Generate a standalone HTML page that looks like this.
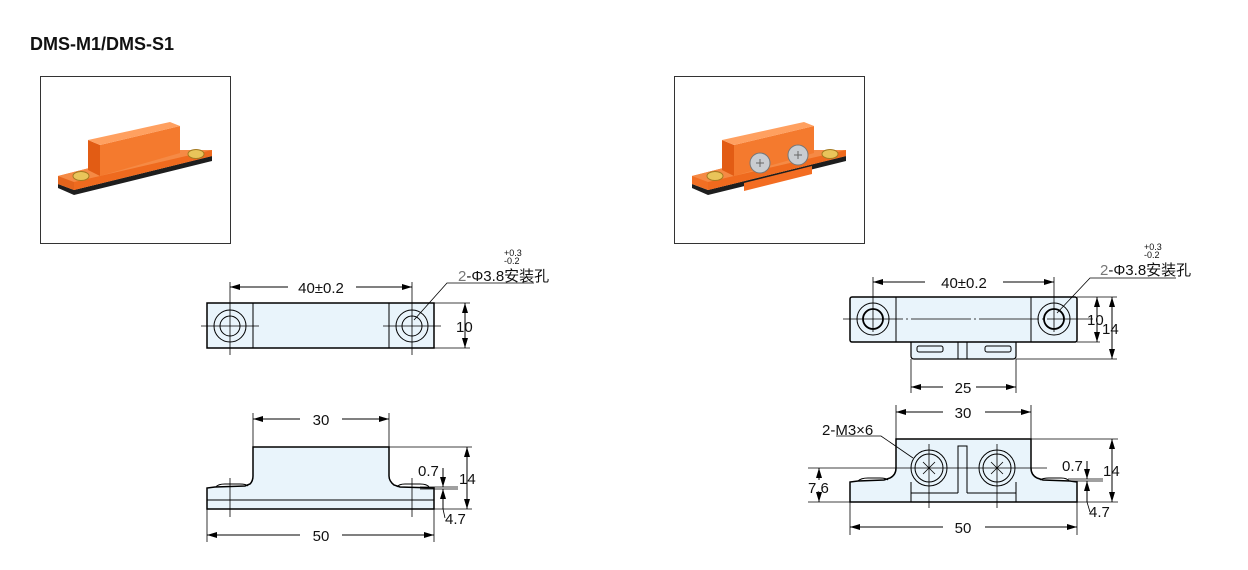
<!DOCTYPE html>
<html><head><meta charset="utf-8"><style>
html,body{margin:0;padding:0;background:#fff;}
svg{display:block;font-family:"Liberation Sans","Noto Sans CJK SC",sans-serif;}
</style></head><body>
<svg width="1248" height="570" viewBox="0 0 1248 570" xmlns="http://www.w3.org/2000/svg">
<defs>
<marker id="a" viewBox="0 0 10 6" refX="10" refY="3" markerWidth="10" markerHeight="6" orient="auto-start-reverse" markerUnits="userSpaceOnUse"><path d="M0,0 L10,3 L0,6z" fill="#000"/></marker>
</defs>
<text x="30" y="50" font-size="18" font-weight="bold" fill="#111">DMS-M1/DMS-S1</text>

<!-- photo boxes -->
<rect x="40.5" y="76.5" width="190" height="167" fill="#fff" stroke="#333"/>
<rect x="674.5" y="76.5" width="190" height="167" fill="#fff" stroke="#333"/>
<!-- photo 1 -->
<polygon points="58,188 74,195 212,161 212,156 74,190 58,184" fill="#1e1e1e"/>
<polygon points="58,176 160,150 212,150 212,156 74,190 58,184" fill="#f26f23"/>
<polygon points="58,176 74,182 74,190 58,184" fill="#e4641c"/>
<polygon points="74,182 212,150 212,156 74,190" fill="#ef6a1e"/>
<polygon points="58,176 160,150 212,150 74,182" fill="#f58a45"/>
<polygon points="88,140 100,145 100,176 88,170" fill="#e25c14"/>
<polygon points="100,145 180,126 180,153 100,176" fill="#f47a2e"/>
<polygon points="88,140 170,122 180,126 100,145" fill="#ffa060"/>
<ellipse cx="81" cy="176" rx="8" ry="4.5" fill="#e9c45a" stroke="#a57a20"/>
<ellipse cx="196" cy="154" rx="8" ry="4.5" fill="#e9c45a" stroke="#a57a20"/>
<!-- photo 2 -->
<polygon points="692,188 708,195 846,161 846,156 708,190 692,184" fill="#1e1e1e"/>
<polygon points="692,176 794,150 846,150 846,156 708,190 692,184" fill="#f26f23"/>
<polygon points="708,182 846,150 846,156 708,190" fill="#ef6a1e"/>
<polygon points="692,176 794,150 846,150 708,182" fill="#f58a45"/>
<polygon points="722,140 734,145 734,176 722,170" fill="#e25c14"/>
<polygon points="734,145 814,126 814,153 734,176" fill="#f47a2e"/>
<polygon points="722,140 804,122 814,126 734,145" fill="#ffa060"/>
<polygon points="744,183 744,191 812,174 812,166" fill="#f36d22"/>
<circle cx="760" cy="163" r="10" fill="#c9ccd0" stroke="#777"/>
<circle cx="798" cy="155" r="10" fill="#c9ccd0" stroke="#777"/>
<path d="M756,163 L764,163 M760,159 L760,167 M794,155 L802,155 M798,151 L798,159" stroke="#666"/>
<ellipse cx="715" cy="176" rx="8" ry="4.5" fill="#e9c45a" stroke="#a57a20"/>
<ellipse cx="830" cy="154" rx="8" ry="4.5" fill="#e9c45a" stroke="#a57a20"/>

<g stroke="#000" fill="none" stroke-width="1">
<!-- LEFT TOP VIEW -->
<rect x="207" y="303" width="227" height="45" fill="#e9f4fb" stroke-width="1.5"/>
<line x1="253" y1="303" x2="253" y2="348"/><line x1="389" y1="303" x2="389" y2="348"/>
<circle cx="230" cy="326" r="16"/><circle cx="230" cy="326" r="10"/>
<circle cx="412" cy="326" r="16"/><circle cx="412" cy="326" r="10"/>
<line x1="201" y1="326" x2="259" y2="326" stroke-width=".8"/>
<line x1="383" y1="326" x2="441" y2="326" stroke-width=".8"/>
<line x1="230" y1="282" x2="230" y2="355" stroke-width=".8"/>
<line x1="412" y1="282" x2="412" y2="355" stroke-width=".8"/>
<line x1="230" y1="287" x2="288" y2="287" marker-start="url(#a)"/>
<line x1="356" y1="287" x2="412" y2="287" marker-end="url(#a)"/>
<line x1="434" y1="303" x2="470" y2="303" stroke-width=".8"/><line x1="434" y1="348" x2="470" y2="348" stroke-width=".8"/>
<line x1="465" y1="303" x2="465" y2="348" marker-start="url(#a)" marker-end="url(#a)"/>
<polyline points="414,320 447,283 534,283" stroke-width=".8"/>

<!-- LEFT SIDE VIEW -->
<path d="M207,509 L207,488 L215,487 L245,486 L250,484 Q253,481 253,476 L253,447 L389,447 L389,476 Q389,481 394,485 L400,487 L434,488 L434,509 Z" fill="#e9f4fb" stroke-width="1.5"/>
<line x1="207" y1="500" x2="434" y2="500"/>
<path d="M216,487 Q218,484 225,484 L240,484 Q246,484 248,486" />
<path d="M397,487 Q399,484 405,484 L420,484 Q427,484 429,487" />
<line x1="230" y1="478" x2="230" y2="517" stroke-width=".8"/>
<line x1="412" y1="478" x2="412" y2="517" stroke-width=".8"/>
<line x1="253" y1="413" x2="253" y2="447" stroke-width=".8"/><line x1="389" y1="413" x2="389" y2="447" stroke-width=".8"/>
<line x1="253" y1="419" x2="300" y2="419" marker-start="url(#a)"/>
<line x1="342" y1="419" x2="389" y2="419" marker-end="url(#a)"/>
<line x1="389" y1="447" x2="472" y2="447" stroke-width=".8"/>
<line x1="434" y1="509" x2="472" y2="509" stroke-width=".8"/>
<line x1="420" y1="487" x2="458" y2="487" stroke-width=".8"/>
<line x1="420" y1="489" x2="458" y2="489" stroke-width=".8"/>
<line x1="467" y1="447" x2="467" y2="509" marker-start="url(#a)" marker-end="url(#a)"/>
<line x1="443" y1="468" x2="443" y2="487" marker-end="url(#a)"/>
<line x1="443" y1="509" x2="443" y2="489" marker-end="url(#a)"/>
<line x1="443" y1="509" x2="445" y2="518" stroke-width=".8"/>
<line x1="207" y1="509" x2="207" y2="542" stroke-width=".8"/><line x1="434" y1="509" x2="434" y2="542" stroke-width=".8"/>
<line x1="207" y1="535" x2="300" y2="535" marker-start="url(#a)"/>
<line x1="342" y1="535" x2="434" y2="535" marker-end="url(#a)"/>

<!-- RIGHT TOP VIEW -->
<path d="M911,342 L911,356 Q911,359 914,359 L1013,359 Q1016,359 1016,356 L1016,342" fill="#e9f4fb" stroke-width="1.2"/>
<rect x="917" y="346" width="26" height="6" rx="2"/>
<rect x="985" y="346" width="26" height="6" rx="2"/>
<line x1="958" y1="342" x2="958" y2="359"/><line x1="967" y1="342" x2="967" y2="359"/>
<rect x="850" y="297" width="227" height="45" rx="2" fill="#e9f4fb" stroke-width="1.5"/>
<line x1="896" y1="297" x2="896" y2="342"/><line x1="1031" y1="297" x2="1031" y2="342"/>
<circle cx="873" cy="319" r="16"/><circle cx="873" cy="319" r="10" stroke-width="1.8"/>
<circle cx="1054" cy="319" r="16"/><circle cx="1054" cy="319" r="10" stroke-width="1.8"/>
<line x1="843" y1="319" x2="1093" y2="319" stroke-width=".8" stroke-dasharray="60,3,2,3"/>
<line x1="873" y1="277" x2="873" y2="332" stroke-width=".8"/>
<line x1="1054" y1="277" x2="1054" y2="332" stroke-width=".8"/>
<line x1="873" y1="282" x2="925" y2="282" marker-start="url(#a)"/>
<line x1="1003" y1="282" x2="1054" y2="282" marker-end="url(#a)"/>
<line x1="1077" y1="297" x2="1117" y2="297" stroke-width=".8"/>
<line x1="1077" y1="342" x2="1100" y2="342" stroke-width=".8"/>
<line x1="1016" y1="359" x2="1117" y2="359" stroke-width=".8"/>
<line x1="1097" y1="297" x2="1097" y2="342" marker-start="url(#a)" marker-end="url(#a)"/>
<line x1="1112" y1="297" x2="1112" y2="359" marker-start="url(#a)" marker-end="url(#a)"/>
<line x1="911" y1="359" x2="911" y2="393" stroke-width=".8"/><line x1="1016" y1="359" x2="1016" y2="393" stroke-width=".8"/>
<line x1="911" y1="387" x2="943" y2="387" marker-start="url(#a)"/>
<line x1="976" y1="387" x2="1016" y2="387" marker-end="url(#a)"/>
<polyline points="1057,313 1090,278 1176,278" stroke-width=".8"/>

<!-- RIGHT SIDE VIEW -->
<path d="M850,502 L850,482 L858,481 L884,480 L890,478 Q896,475 896,468 L896,439 L1031,439 L1031,468 Q1031,475 1037,478 L1043,480 L1070,481 L1077,482 L1077,502 Z" fill="#e9f4fb" stroke-width="1.5"/>
<path d="M858,481 Q861,478 868,478 L880,478 Q886,478 888,480"/>
<path d="M1040,480 Q1043,478 1049,478 L1061,478 Q1067,478 1069,481"/>
<line x1="911" y1="482" x2="911" y2="502"/><line x1="1016" y1="482" x2="1016" y2="502"/>
<line x1="911" y1="493" x2="958" y2="493"/><line x1="967" y1="493" x2="1016" y2="493"/>
<path d="M958,493 L958,446 L967,446 L967,493"/>
<circle cx="929" cy="468" r="18" fill="#e9f4fb"/><circle cx="929" cy="468" r="14"/>
<circle cx="997" cy="468" r="18" fill="#e9f4fb"/><circle cx="997" cy="468" r="14"/>
<path d="M923,462 L935,474 M935,462 L923,474 M991,462 L1003,474 M1003,462 L991,474" stroke-width=".8"/>
<line x1="808" y1="468" x2="1047" y2="468" stroke-width=".8"/>
<line x1="929" y1="444" x2="929" y2="508" stroke-width=".8"/>
<line x1="997" y1="444" x2="997" y2="508" stroke-width=".8"/>
<line x1="808" y1="502" x2="850" y2="502" stroke-width=".8"/>
<line x1="819" y1="480" x2="819" y2="468" marker-end="url(#a)"/>
<line x1="819" y1="492" x2="819" y2="502" marker-end="url(#a)"/>
<line x1="896" y1="405" x2="896" y2="439" stroke-width=".8"/><line x1="1031" y1="405" x2="1031" y2="439" stroke-width=".8"/>
<line x1="896" y1="412" x2="943" y2="412" marker-start="url(#a)"/>
<line x1="985" y1="412" x2="1031" y2="412" marker-end="url(#a)"/>
<line x1="1031" y1="439" x2="1118" y2="439" stroke-width=".8"/>
<line x1="1077" y1="502" x2="1118" y2="502" stroke-width=".8"/>
<line x1="1068" y1="479" x2="1103" y2="479" stroke-width=".8"/>
<line x1="1068" y1="481" x2="1103" y2="481" stroke-width=".8"/>
<line x1="1112" y1="439" x2="1112" y2="502" marker-start="url(#a)" marker-end="url(#a)"/>
<line x1="1087" y1="461" x2="1087" y2="479" marker-end="url(#a)"/>
<line x1="1087" y1="502" x2="1087" y2="481" marker-end="url(#a)"/>
<line x1="1087" y1="502" x2="1090" y2="512" stroke-width=".8"/>
<line x1="850" y1="502" x2="850" y2="535" stroke-width=".8"/><line x1="1077" y1="502" x2="1077" y2="535" stroke-width=".8"/>
<line x1="850" y1="527" x2="943" y2="527" marker-start="url(#a)"/>
<line x1="985" y1="527" x2="1077" y2="527" marker-end="url(#a)"/>
<polyline points="836,436 881,436 913,458" stroke-width=".8"/>
</g>

<g font-size="15" fill="#111">
<text x="321" y="293" text-anchor="middle">40±0.2</text>
<text x="456" y="332">10</text>
<text x="321" y="425" text-anchor="middle">30</text>
<text x="418" y="476">0.7</text>
<text x="459" y="484">14</text>
<text x="445" y="524">4.7</text>
<text x="321" y="541" text-anchor="middle">50</text>
<text x="458" y="281"><tspan fill="#777">2</tspan>-Φ3.8安装孔</text>
<text x="964" y="288" text-anchor="middle">40±0.2</text>
<text x="1087" y="325">10</text>
<text x="1102" y="334">14</text>
<text x="963" y="393" text-anchor="middle">25</text>
<text x="963" y="418" text-anchor="middle">30</text>
<text x="822" y="435">2-M3×6</text>
<text x="808" y="493">7.6</text>
<text x="1062" y="471">0.7</text>
<text x="1103" y="476">14</text>
<text x="1089" y="517">4.7</text>
<text x="963" y="533" text-anchor="middle">50</text>
<text x="1100" y="275"><tspan fill="#777">2</tspan>-Φ3.8安装孔</text>
</g>
<g font-size="9" fill="#111">
<text x="504" y="256">+0.3</text><text x="504" y="264">-0.2</text>
<text x="1144" y="250">+0.3</text><text x="1144" y="258">-0.2</text>
</g>
</svg>
</body></html>
